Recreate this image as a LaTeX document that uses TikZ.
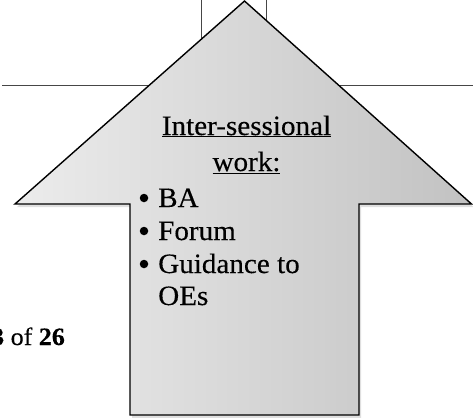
\documentclass[tikz,border=0pt]{standalone}
\usepackage{fontspec}
\setmainfont{Liberation Serif}[FakeStretch=1.04, FakeBold=0.3]
\usepackage{tikz}
\usetikzlibrary{shadows}
\definecolor{arrowlight}{RGB}{236,236,236}
\definecolor{arrowdark}{RGB}{194,194,194}
\definecolor{ruleline}{RGB}{70,70,70}

\begin{document}
\begin{tikzpicture}[
    x=1pt, y=-1pt,
    rule/.style={draw=ruleline, line width=0.8pt},
    bigarrow/.style={draw=black, line width=1.4pt, line join=miter, left color=arrowlight, right color=arrowdark, drop shadow={shadow xshift=2pt, shadow yshift=-3pt, opacity=0.25}},
    heading/.style={font=\fontsize{28}{33}\selectfont, anchor=base, inner sep=0pt},
    item/.style={font=\fontsize{28}{33}\selectfont, anchor=base west, inner sep=0pt},
    dot/.style={circle, fill=black, inner sep=0pt, minimum size=8.5pt}
]
    \useasboundingbox (0,0) rectangle (473,417);

    % lines behind the arrow
    \draw[rule] (2,85) -- (473,85);
    \draw[rule] (201,-1) -- (201,60);
    \draw[rule] (266,-1) -- (266,40);

    % up arrow
    \path[bigarrow] (244.5,1) -- (471.5,204) -- (359,204) -- (359,415)
        -- (130,415) -- (130,204) -- (15,204) -- cycle;

    \node[heading] (title) at (246.5,135) {\underline{Inter-sessional}};
    \node[heading] (work) at (246.5,171) {\underline{work:}};

    \node[dot] (b1) at (144,198) {};
    \node[item] (ba) at (158,207) {BA};
    \node[dot] (b2) at (144,231) {};
    \node[item] (forum) at (158,240) {Forum};
    \node[dot] (b3) at (144,264) {};
    \node[item] (guide) at (158,273) {Guidance to};
    \node[item] (oes) at (158,305) {OEs};

    \node[item, font=\fontsize{25}{30}\selectfont] (page) at (-9,345) {\textbf{3} of \textbf{26}};
\end{tikzpicture}
\end{document}
